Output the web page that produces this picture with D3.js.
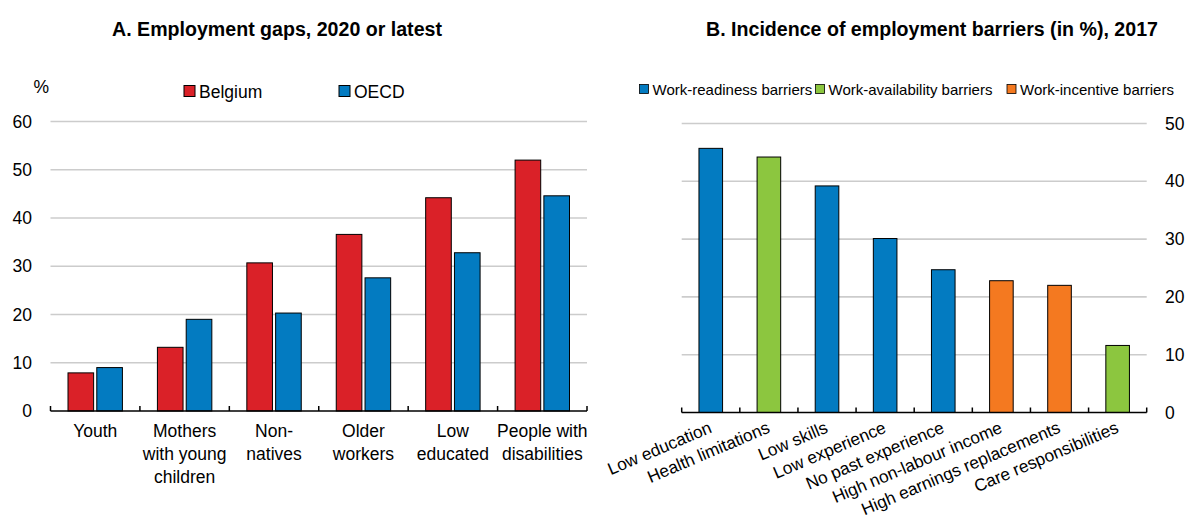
<!DOCTYPE html>
<html>
<head>
<meta charset="utf-8">
<script src="https://cdn.jsdelivr.net/npm/d3@7"></script>
<style>
  html, body { margin: 0; padding: 0; background: #fff; }
  svg { display: block; font-family: "Liberation Sans", Arial, sans-serif; }
</style>
</head>
<body>
<svg id="chart" width="1188" height="520"></svg>
<script>
// ---------- Data ----------
const groupsA = [["Youth"], ["Mothers", "with young", "children"], ["Non-", "natives"], ["Older", "workers"], ["Low", "educated"], ["People with", "disabilities"]];
const seriesA = ["Belgium", "OECD"];
const belgium = [7.9, 13.2, 30.7, 36.6, 44.2, 52.0];
const oecd = [9.0, 19.0, 20.3, 27.6, 32.8, 44.6];
const ticksA = [0, 10, 20, 30, 40, 50, 60];

const barriers = ["Low education", "Health limitations", "Low skills", "Low experience", "No past experience", "High non-labour income", "High earnings replacements", "Care responsibilities"];
const barrierValues = [45.7, 44.2, 39.2, 30.1, 24.7, 22.8, 22.0, 11.6];
const barrierTypes = ["Work-readiness barriers", "Work-availability barriers", "Work-readiness barriers", "Work-readiness barriers", "Work-readiness barriers", "Work-incentive barriers", "Work-incentive barriers", "Work-availability barriers"];
const typeNames = ["Work-readiness barriers", "Work-availability barriers", "Work-incentive barriers"];
const ticksB = [0, 10, 20, 30, 40, 50];

// ---------- Styles ----------
const RED = "#DA2128", BLUE = "#037BC1", GREEN = "#8CC63F", ORANGE = "#F47920";
const GRID = "#cccccc";
const svg = d3.select("#chart");

// ---------- Panel A ----------
{
  const x = d3.scaleBand().domain(d3.range(groupsA.length)).range([50.5, 587]).padding(0);
  const xs = d3.scaleBand().domain(seriesA).range([17.5, x.bandwidth() - 17.5]).paddingInner(0.11);
  const y = d3.scaleLinear().domain([0, 60]).range([411, 121.5]);
  const colors = d3.scaleOrdinal().domain(seriesA).range([RED, BLUE]);
  const g = svg.append("g");

  svg.append("text").attr("x", 277).attr("y", 36).attr("text-anchor", "middle")
    .attr("font-weight", "bold").attr("font-size", 19.6).text("A. Employment gaps, 2020 or latest");

  g.selectAll("line.grid").data(ticksA.filter(d => d > 0)).join("line")
    .attr("x1", 50.5).attr("x2", 587).attr("y1", d => y(d)).attr("y2", d => y(d))
    .attr("stroke", GRID).attr("stroke-width", 1.6);

  const yAxis = d3.axisLeft(y).tickValues(ticksA).tickSize(0).tickPadding(0);
  const ya = g.append("g").attr("transform", "translate(32,0)").call(yAxis);
  ya.select(".domain").remove();
  ya.selectAll("text").attr("font-size", 17.5).attr("fill", "#000").attr("font-family", "Liberation Sans, Arial, sans-serif");

  svg.append("text").attr("x", 33.5).attr("y", 93).attr("font-size", 17.5).text("%");

  const data = [];
  groupsA.forEach((c, i) => { data.push({i, s: "Belgium", v: belgium[i]}); data.push({i, s: "OECD", v: oecd[i]}); });
  g.selectAll("rect.bar").data(data).join("rect")
    .attr("x", d => x(d.i) + xs(d.s)).attr("width", xs.bandwidth())
    .attr("y", d => y(d.v)).attr("height", d => y(0) - y(d.v))
    .attr("fill", d => colors(d.s)).attr("stroke", "#000").attr("stroke-width", 1);

  g.append("line").attr("x1", 50.5).attr("x2", 587).attr("y1", y(0)).attr("y2", y(0)).attr("stroke", "#000").attr("stroke-width", 1.5);
  const bounds = d3.range(groupsA.length + 1).map(i => i < groupsA.length ? x(i) : x(groupsA.length - 1) + x.bandwidth());
  g.selectAll("line.tk").data(bounds).join("line")
    .attr("x1", d => d).attr("x2", d => d).attr("y1", y(0)).attr("y2", y(0) - 5)
    .attr("stroke", "#000").attr("stroke-width", 1.5);

  const labels = g.selectAll("text.cat").data(groupsA).join("text")
    .attr("text-anchor", "middle").attr("font-size", 17.5)
    .attr("x", (d, i) => x(i) + x.bandwidth() / 2).attr("y", 437);
  labels.selectAll("tspan").data(d => d).join("tspan")
    .attr("x", function() { return this.parentNode.getAttribute("x"); })
    .attr("dy", (d, i) => i === 0 ? 0 : 23).text(d => d);

  const leg = svg.append("g");
  const legX = [184, 339];
  seriesA.forEach((s, i) => {
    leg.append("rect").attr("x", legX[i]).attr("y", 85.5).attr("width", 11).attr("height", 11)
      .attr("fill", colors(s)).attr("stroke", "#000").attr("stroke-width", 1);
    leg.append("text").attr("x", legX[i] + 15).attr("y", 98).attr("font-size", 17.5).text(s);
  });
}

// ---------- Panel B ----------
{
  const x = d3.scaleBand().domain(barriers).range([681.7, 1146.7]).padding(0);
  const y = d3.scaleLinear().domain([0, 50]).range([412.5, 123.5]);
  const color = d3.scaleOrdinal().domain(typeNames).range([BLUE, GREEN, ORANGE]);
  const g = svg.append("g");
  const bw = 23.6;

  svg.append("text").attr("x", 932).attr("y", 36).attr("text-anchor", "middle")
    .attr("font-weight", "bold").attr("font-size", 19.6).text("B. Incidence of employment barriers (in %), 2017");

  g.selectAll("line.grid").data(ticksB.filter(d => d > 0)).join("line")
    .attr("x1", 681.7).attr("x2", 1146.7).attr("y1", d => y(d)).attr("y2", d => y(d))
    .attr("stroke", GRID).attr("stroke-width", 1.6);

  const yAxis = d3.axisRight(y).tickValues(ticksB).tickSize(0).tickPadding(0);
  const ya = g.append("g").attr("transform", "translate(1165,0)").call(yAxis);
  ya.select(".domain").remove();
  ya.selectAll("text").attr("font-size", 17.5).attr("fill", "#000").attr("font-family", "Liberation Sans, Arial, sans-serif");

  g.selectAll("rect.bar").data(barriers).join("rect")
    .attr("x", d => x(d) + x.bandwidth() / 2 - bw / 2).attr("width", bw)
    .attr("y", (d, i) => y(barrierValues[i])).attr("height", (d, i) => y(0) - y(barrierValues[i]))
    .attr("fill", (d, i) => color(barrierTypes[i])).attr("stroke", "#000").attr("stroke-width", 1);

  g.append("line").attr("x1", 681.7).attr("x2", 1146.7).attr("y1", y(0)).attr("y2", y(0)).attr("stroke", "#000").attr("stroke-width", 1.5);
  const bounds = barriers.map(b => x(b)).concat([1146.7]);
  g.selectAll("line.tk").data(bounds).join("line")
    .attr("x1", d => d).attr("x2", d => d).attr("y1", y(0)).attr("y2", y(0) - 5)
    .attr("stroke", "#000").attr("stroke-width", 1.5);

  g.selectAll("text.cat").data(barriers).join("text")
    .attr("text-anchor", "end").attr("font-size", 17.2)
    .attr("transform", d => `translate(${x(d) + x.bandwidth() / 2 + 2},${432}) rotate(-23)`)
    .text(d => d);

  const legX = [639.5, 815.5, 1007];
  typeNames.forEach((t, i) => {
    svg.append("rect").attr("x", legX[i]).attr("y", 84.5).attr("width", 9).attr("height", 9)
      .attr("fill", color(t)).attr("stroke", "#000").attr("stroke-width", 0.8);
    svg.append("text").attr("x", legX[i] + 13).attr("y", 94.5).attr("font-size", 15).text(t);
  });
}
</script>
</body>
</html>
